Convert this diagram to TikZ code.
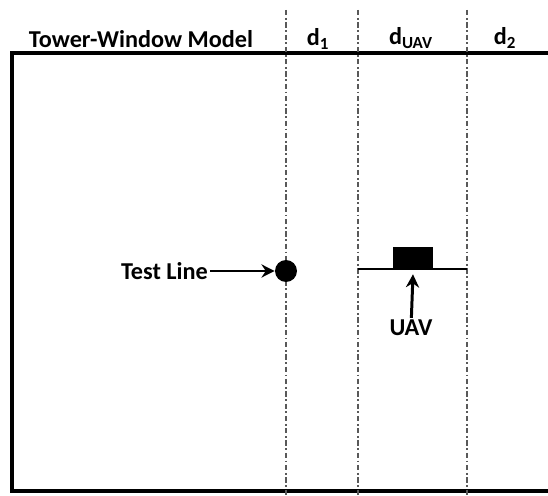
\documentclass[tikz,border=0pt]{standalone}
\usepackage{fontspec}
\setmainfont{Carlito}
\usetikzlibrary{arrows.meta, positioning}
\tikzstyle{label} = [font=\bfseries\fontsize{13.8}{15}\selectfont, inner sep=1pt]
\tikzstyle{frame} = [line width=2.2pt, black]
\tikzstyle{divider} = [gray!70!black, line width=0.8pt, dash pattern=on 3pt off 1.5pt on 1pt off 1.5pt]
\tikzstyle{pointer} = [line width=1.7pt, -{Stealth[length=7.5pt, width=7.5pt]}, black]
\tikzstyle{target} = [circle, fill=black, minimum size=0.44cm, inner sep=0pt]
\tikzstyle{uav} = [rectangle, fill=black, minimum width=0.8cm, minimum height=0.44cm, inner sep=0pt]

\begin{document}
\begin{tikzpicture}[x=0.02cm, y=-0.02cm]
	\useasboundingbox (0,0) rectangle (548,496);

	% Frame (open on the right)
	\draw[frame] (548,53) -- (12,53) -- (12,491) -- (548,491);

	% Zone dividers
	\coordinate (t1) at (286,10);
	\coordinate (b1) at (286,496);
	\coordinate (t2) at (358,10);
	\coordinate (b2) at (358,496);
	\coordinate (t3) at (467,10);
	\coordinate (b3) at (467,496);
	\draw[divider] (t1) -- (b1);
	\draw[divider] (t2) -- (b2);
	\draw[divider] (t3) -- (b3);

	% Headings
	\node (title) [label] at (141,39) {Tower-Window Model};
	\node (d1) [label] at (318,39) {d\textsubscript{1}};
	\node (duav) [label] at (411,38) {d\textsubscript{UAV}};
	\node (d2) [label] at (505,38) {d\textsubscript{2}};

	% Test line
	\node (line) [target] at (286,271) {};
	\node (linetext) [label, anchor=east] at (210,271) {Test Line};
	\draw[pointer] (linetext) -- (line);

	% UAV on its platform
	\coordinate (padL) at (358,269);
	\coordinate (padR) at (467,269);
	\draw[black, line width=0.6pt] (padL) -- (padR);
	\node (drone) [uav, anchor=south] at (413,269) {};
	\node (uavtext) [label] at (411,328) {UAV};
	\coordinate (uavtip) at ([yshift=-3pt]drone.south);
	\draw[pointer] (uavtext) -- (uavtip);

\end{tikzpicture}
\end{document}
